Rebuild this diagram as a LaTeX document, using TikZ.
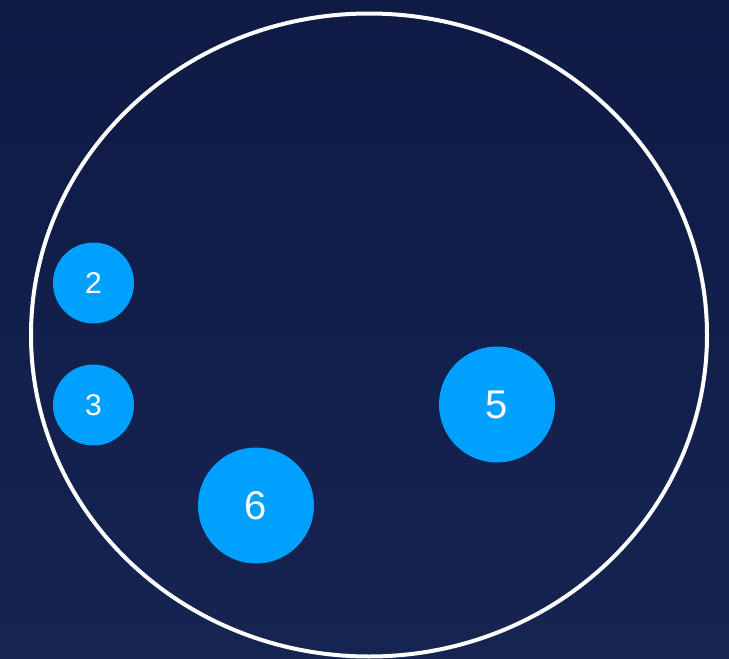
\documentclass[tikz,border=0pt]{standalone}
\usepackage{fontspec}
\setmainfont{Liberation Sans}
\usetikzlibrary{shapes.geometric}
\definecolor{bgtop}{HTML}{0F1A45}
\definecolor{bgbot}{HTML}{162452}
\definecolor{dotblue}{HTML}{00A0FF}
\begin{document}
\begin{tikzpicture}[x=1pt,y=-1pt,
  smalldot/.style={circle,fill=dotblue,minimum size=81pt,inner sep=0pt,text=white,font=\fontsize{30}{32}\selectfont},
  bigdot/.style={circle,fill=dotblue,minimum size=116pt,inner sep=0pt,text=white,font=\fontsize{40}{44}\selectfont}]
\shade[top color=bgtop,bottom color=bgbot] (0,0) rectangle (729,659);
\useasboundingbox (0,0) rectangle (729,659);
\node[draw=white,line width=4pt,ellipse,minimum width=676pt,minimum height=643pt,inner sep=0pt] (ring) at (369,335) {};
\node[smalldot] (n2) at (93.5,283) {\raisebox{-1.5pt}{2}};
\node[smalldot] (n3) at (93.5,405) {\raisebox{-1.5pt}{3}};
\node[bigdot] (n5) at (497,404.5) {\raisebox{-2pt}{5}};
\node[bigdot] (n6) at (256,505.5) {\raisebox{-2pt}{6}};
\end{tikzpicture}
\end{document}
